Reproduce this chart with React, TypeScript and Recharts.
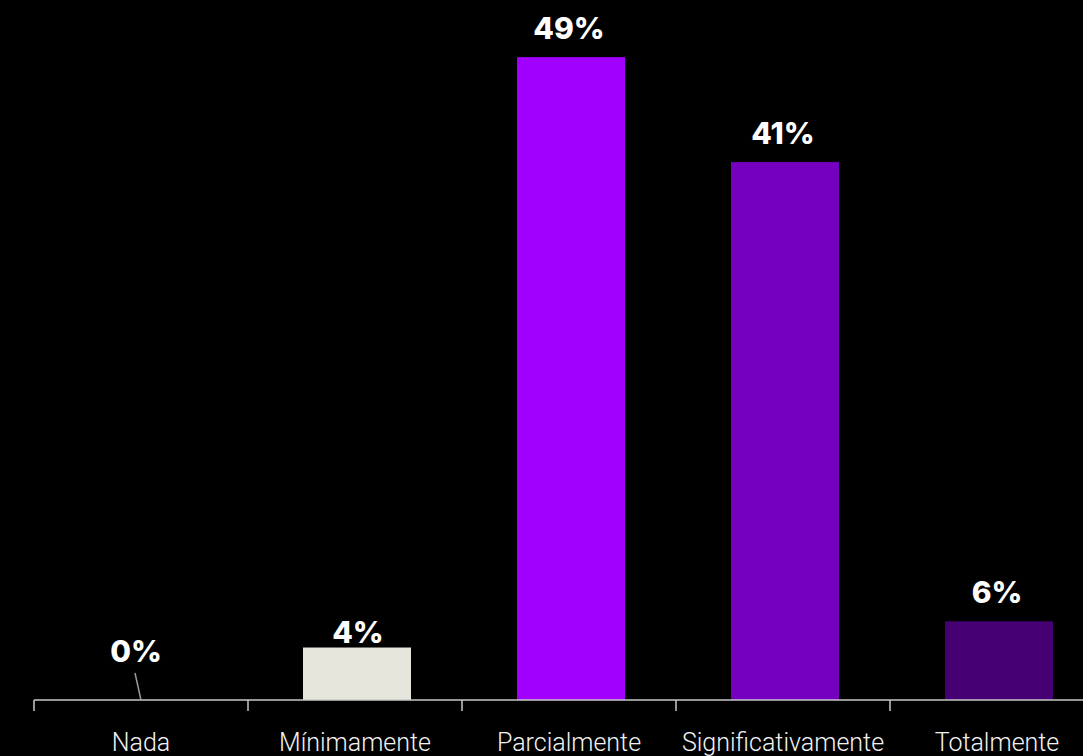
import { BarChart, Bar, XAxis, YAxis, Cell, LabelList } from 'recharts';

const categories = ['Nada', 'Mínimamente', 'Parcialmente', 'Significativamente', 'Totalmente'];
const shares = [0, 4, 49, 41, 6];
const barColors = ['#E6E6DC', '#E6E6DC', '#A100FF', '#7500C0', '#460073'];

const data = categories.map((name, i) => ({ name, value: shares[i] }));

const CHART_W = 1110;
const CHART_H = 756;
const MARGIN = { top: 44, right: 6, bottom: 0, left: 34 };
const BAND = (CHART_W - MARGIN.left - MARGIN.right) / categories.length;
const TICK_SIZE = 11;
const TICK_MARGIN = 22;

const valueStyle = {
  fill: '#ffffff',
  fontFamily: 'Inter, sans-serif',
  fontWeight: 800,
  fontSize: 30,
};

const CategoryTick = (props: any) => {
  const { x, y, payload, index } = props;
  const axisY = y - TICK_SIZE - TICK_MARGIN;
  const left = x - BAND / 2;
  const share = shares[index];
  return (
    <g>
      <line x1={left} y1={axisY} x2={left} y2={axisY + TICK_SIZE} stroke="#c8c8c8" strokeWidth={1.5} />
      {share === 0 && (
        // empty category: value sits above the axis with a short leader line
        <g>
          <line x1={x - 6} y1={axisY - 27} x2={x} y2={axisY} stroke="#9a9a9a" strokeWidth={1.5} />
          <text x={x - 5} y={axisY - 38} textAnchor="middle" {...valueStyle}>
            {`${share}%`}
          </text>
        </g>
      )}
      <text
        x={x}
        y={y}
        dy="0.71em"
        textAnchor="middle"
        fill="#f2f2f2"
        fontFamily="Roboto, sans-serif"
        fontWeight={300}
        fontSize={25}
      >
        {payload.value}
      </text>
    </g>
  );
};

const ValueLabel = (props: any) => {
  const { x, y, width, value } = props;
  if (!value) return null;
  const cx = x + width / 2;
  const small = value < 5;
  return (
    <text x={cx + (small ? 3 : 0)} y={y - (small ? 5 : 18)} textAnchor="middle" {...valueStyle}>
      {`${value}%`}
    </text>
  );
};

const BarShape = (props: any) => {
  const { x, y, width, height, fill } = props;
  if (!height) return null;
  return <rect x={x + 2} y={y} width={width} height={height} fill={fill} />;
};

const App = () => {
  return (
    <div
      style={{
        position: 'absolute',
        left: 0,
        top: 0,
        width: 1083,
        height: 756,
        overflow: 'hidden',
        background: '#000000',
      }}
    >
      <BarChart width={CHART_W} height={CHART_H} data={data} margin={MARGIN}>
        <YAxis hide domain={[0, 50]} />
        <XAxis
          dataKey="name"
          height={CHART_H - 700}
          axisLine={{ stroke: '#c8c8c8', strokeWidth: 1.5 }}
          tickLine={false}
          tickSize={TICK_SIZE}
          tickMargin={TICK_MARGIN}
          interval={0}
          tick={<CategoryTick />}
        />
        <Bar dataKey="value" barSize={108} shape={<BarShape />} isAnimationActive={false}>
          {data.map((d, i) => (
            <Cell key={d.name} fill={barColors[i]} />
          ))}
          <LabelList dataKey="value" content={<ValueLabel />} />
        </Bar>
      </BarChart>
    </div>
  );
};

export default App;
